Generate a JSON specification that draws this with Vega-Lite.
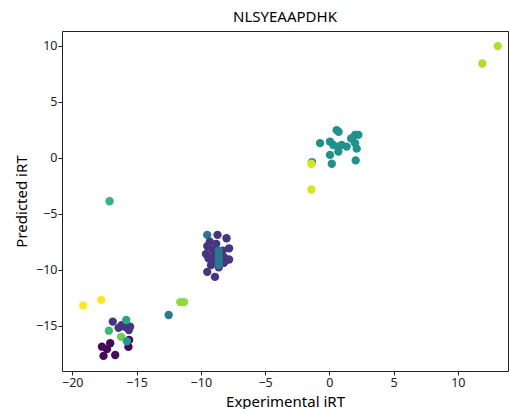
{
  "$schema": "https://vega.github.io/schema/vega-lite/v6.json",
  "autosize": "none",
  "width": 446,
  "height": 340,
  "padding": {"left": 62, "top": 31, "right": 1, "bottom": 38},
  "background": "white",
  "config": {
    "font": "Noto Sans",
    "view": {"stroke": "#222", "strokeWidth": 1},
    "axis": {"domain": false, "grid": false, "tickColor": "#222", "tickSize": 4, "labelColor": "#222", "labelFontSize": 12.5, "titleColor": "#000", "titleFontSize": 15, "titleFontWeight": "normal", "labelPadding": 1}
  },
  "title": {"text": "NLSYEAAPDHK", "fontSize": 15, "fontWeight": "normal", "color": "#000", "offset": 6},
  "data": {"values": [
    {"x": 13.1, "y": 9.95, "c": 0.88},
    {"x": 11.9, "y": 8.4, "c": 0.88},
    {"x": -17.1, "y": -3.9, "c": 0.66},
    {"x": -19.15, "y": -13.2, "c": 1.0},
    {"x": -17.75, "y": -12.7, "c": 1.0},
    {"x": -11.6, "y": -12.9, "c": 0.84},
    {"x": -11.3, "y": -12.9, "c": 0.84},
    {"x": -12.5, "y": -14.05, "c": 0.4},
    {"x": -1.35, "y": -0.4, "c": 0.5},
    {"x": -1.4, "y": -0.55, "c": 0.94},
    {"x": -1.4, "y": -2.85, "c": 0.94},

    {"x": -0.72, "y": 1.29, "c": 0.5},
    {"x": 0.05, "y": 1.43, "c": 0.5},
    {"x": 0.57, "y": 2.45, "c": 0.5},
    {"x": 0.72, "y": 2.3, "c": 0.5},
    {"x": 0.31, "y": 1.13, "c": 0.5},
    {"x": 0.7, "y": 0.98, "c": 0.5},
    {"x": 0.96, "y": 1.13, "c": 0.5},
    {"x": 1.35, "y": 0.98, "c": 0.5},
    {"x": 0.7, "y": 0.54, "c": 0.5},
    {"x": 0.05, "y": 0.24, "c": 0.5},
    {"x": 0.19, "y": -0.55, "c": 0.5},
    {"x": 2.0, "y": 2.03, "c": 0.5},
    {"x": 2.26, "y": 2.03, "c": 0.5},
    {"x": 2.0, "y": 1.29, "c": 0.5},
    {"x": 2.13, "y": 0.8, "c": 0.5},
    {"x": 2.05, "y": -0.25, "c": 0.5},
    {"x": 1.7, "y": 1.7, "c": 0.5},

    {"x": -9.5, "y": -6.9, "c": 0.4},
    {"x": -8.7, "y": -6.9, "c": 0.15},
    {"x": -8.0, "y": -7.2, "c": 0.15},
    {"x": -9.3, "y": -7.5, "c": 0.15},
    {"x": -8.8, "y": -7.7, "c": 0.15},
    {"x": -9.5, "y": -7.9, "c": 0.15},
    {"x": -7.8, "y": -8.1, "c": 0.15},
    {"x": -9.1, "y": -8.2, "c": 0.15},
    {"x": -8.3, "y": -8.3, "c": 0.15},
    {"x": -9.6, "y": -8.6, "c": 0.15},
    {"x": -9.0, "y": -8.8, "c": 0.15},
    {"x": -8.2, "y": -8.9, "c": 0.15},
    {"x": -7.8, "y": -9.1, "c": 0.15},
    {"x": -9.4, "y": -9.0, "c": 0.15},
    {"x": -8.9, "y": -9.3, "c": 0.15},
    {"x": -8.2, "y": -9.4, "c": 0.15},
    {"x": -9.2, "y": -9.6, "c": 0.15},
    {"x": -8.6, "y": -9.8, "c": 0.15},
    {"x": -9.5, "y": -10.2, "c": 0.15},
    {"x": -8.9, "y": -10.65, "c": 0.15},
    {"x": -8.6, "y": -8.3, "c": 0.4},
    {"x": -8.6, "y": -8.8, "c": 0.4},
    {"x": -8.6, "y": -9.25, "c": 0.4},
    {"x": -8.6, "y": -9.6, "c": 0.4},

    {"x": -17.69, "y": -16.88, "c": 0.02},
    {"x": -17.05, "y": -16.57, "c": 0.02},
    {"x": -17.3, "y": -17.1, "c": 0.02},
    {"x": -17.57, "y": -17.7, "c": 0.02},
    {"x": -16.66, "y": -17.62, "c": 0.02},
    {"x": -15.63, "y": -16.9, "c": 0.02},
    {"x": -15.58, "y": -16.28, "c": 0.02},
    {"x": -16.85, "y": -14.64, "c": 0.15},
    {"x": -16.4, "y": -15.2, "c": 0.15},
    {"x": -16.15, "y": -14.95, "c": 0.15},
    {"x": -15.9, "y": -15.1, "c": 0.15},
    {"x": -15.5, "y": -15.1, "c": 0.15},
    {"x": -15.6, "y": -15.4, "c": 0.15},
    {"x": -17.15, "y": -15.45, "c": 0.68},
    {"x": -15.8, "y": -14.5, "c": 0.6},
    {"x": -16.2, "y": -16.0, "c": 0.78},
    {"x": -15.75, "y": -16.4, "c": 0.55}
  ]},
  "mark": {"type": "circle", "size": 70, "opacity": 1},
  "encoding": {
    "x": {"field": "x", "type": "quantitative", "scale": {"domain": [-20.8, 13.9], "nice": false, "zero": false}, "axis": {"values": [-20, -15, -10, -5, 0, 5, 10], "title": "Experimental iRT", "titleY": 35, "titleBaseline": "alphabetic"}},
    "y": {"field": "y", "type": "quantitative", "scale": {"domain": [-19.05, 11.3], "nice": false, "zero": false}, "axis": {"values": [-15, -10, -5, 0, 5, 10], "title": "Predicted iRT", "titlePadding": 6}},
    "color": {"field": "c", "type": "quantitative", "scale": {"scheme": "viridis", "domain": [0, 1]}, "legend": null}
  }
}
